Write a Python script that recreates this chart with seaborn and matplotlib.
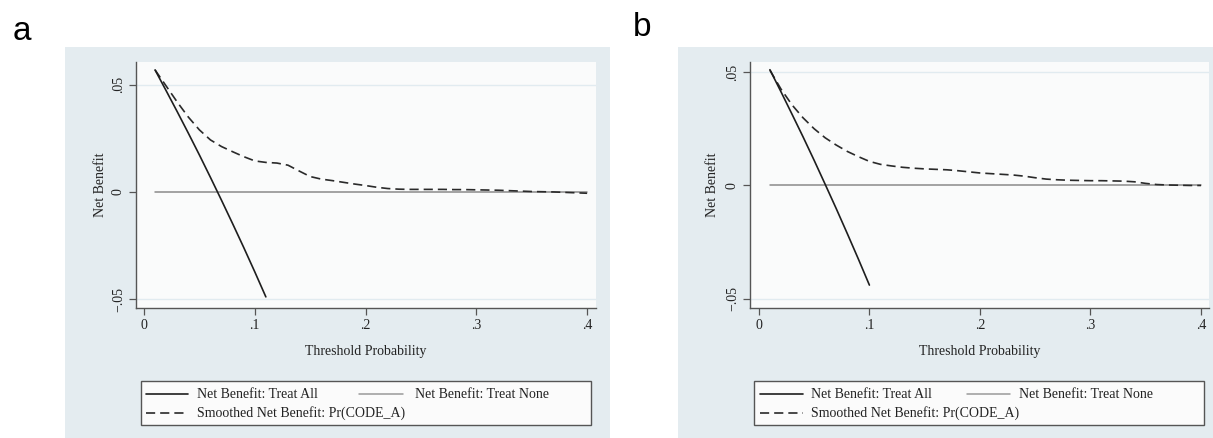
import numpy as np
import pandas as pd
import matplotlib
matplotlib.use("Agg")
import matplotlib.pyplot as plt
from matplotlib.patches import Rectangle
from matplotlib.lines import Line2D
import seaborn as sns

# ---------------- data ----------------
thr_all_a = [0.01, 0.02, 0.03, 0.04, 0.05, 0.06, 0.07, 0.08, 0.09, 0.10, 0.11]
nb_all_a = [0.0570, 0.0473, 0.0375, 0.0275, 0.0173, 0.0068, -0.0039, -0.0148, -0.0259, -0.0373, -0.0490]

thr_smooth = [0.01, 0.02, 0.03, 0.04, 0.05, 0.06, 0.07, 0.08, 0.09, 0.10,
              0.11, 0.12, 0.13, 0.14, 0.15, 0.16, 0.17, 0.18, 0.19, 0.20,
              0.21, 0.22, 0.23, 0.24, 0.25, 0.26, 0.27, 0.28, 0.29, 0.30,
              0.31, 0.32, 0.33, 0.34, 0.35, 0.36, 0.37, 0.38, 0.39, 0.40]
nb_smooth_a = [0.0570, 0.0495, 0.0420, 0.0350, 0.0290, 0.0243, 0.0212, 0.0188, 0.0165, 0.0145,
               0.0138, 0.0135, 0.0125, 0.0098, 0.0072, 0.0060, 0.0053, 0.0045, 0.0037, 0.0030,
               0.0022, 0.0016, 0.0013, 0.0012, 0.0012, 0.0012, 0.0012, 0.0011, 0.0011, 0.0010,
               0.0009, 0.0008, 0.0006, 0.0004, 0.0002, 0.0001, 0.0000, -0.0002, -0.0004, -0.0006]

thr_all_b = [0.01, 0.02, 0.03, 0.04, 0.05, 0.06, 0.07, 0.08, 0.09, 0.10]
nb_all_b = [0.0510, 0.0413, 0.0314, 0.0214, 0.0111, 0.0005, -0.0102, -0.0212, -0.0324, -0.0439]

nb_smooth_b = [0.0508, 0.0425, 0.0355, 0.0298, 0.0250, 0.0210, 0.0178, 0.0150, 0.0127, 0.0106,
               0.0093, 0.0086, 0.0080, 0.0076, 0.0073, 0.0071, 0.0069, 0.0065, 0.0060, 0.0055,
               0.0052, 0.0049, 0.0046, 0.0041, 0.0034, 0.0028, 0.0025, 0.0023, 0.0022, 0.0021,
               0.0021, 0.0020, 0.0019, 0.0016, 0.0009, 0.0004, 0.0002, 0.0001, 0.0000, 0.0000]

thr_none = [0.01, 0.40]
nb_none = [0.0, 0.0]

x_ticks = [0, 0.1, 0.2, 0.3, 0.4]
x_ticklabels = ["0", ".1", ".2", ".3", ".4"]
y_ticks = [-0.05, 0, 0.05]
y_ticklabels = ["\u2212.05", "0", ".05"]

legend_labels = ["Net Benefit: Treat All", "Net Benefit: Treat None",
                 "Smoothed Net Benefit: Pr(CODE_A)"]

# ---------------- style ----------------
sns.set_style("white")
plt.rcParams["font.family"] = ["Liberation Serif", "DejaVu Serif"]
plt.rcParams["axes.unicode_minus"] = True

W, H = 1213, 438
fig = plt.figure(figsize=(W / 100, H / 100), dpi=100)
fig.patch.set_facecolor("white")

REGION = "#E4ECF0"
PLOTBG = "#FAFBFB"
GRID = "#E1EBF0"
AXC = "#555555"
TXT = "#222222"
FS = 10
C_ALL = "#1E1E1E"
C_SM = "#2A2A2A"
C_NONE = "#8A8A8A"
DASH = (0, (5.5, 3))


def fx(px):
    return px / W


def fy(py):
    return 1 - py / H


panels = [
    dict(letter="a", region=(65, 47, 610, 438), axes=(136, 62, 596, 308),
         ylim=(-0.0542, 0.0607), xlim=(-0.0072, 0.408),
         thr_all=thr_all_a, nb_all=nb_all_a, nb_smooth=nb_smooth_a,
         letter_xy=(22, 31), legend=(141, 381, 591, 425),
         col1=(146, 188, 197), col2=(359, 403, 415), rows=(394, 413),
         ylab_x=100, xlab_y=351),
    dict(letter="b", region=(678, 47, 1213, 438), axes=(750, 62, 1209, 308),
         ylim=(-0.054, 0.0544), xlim=(-0.008, 0.4072),
         thr_all=thr_all_b, nb_all=nb_all_b, nb_smooth=nb_smooth_b,
         letter_xy=(642, 27), legend=(754, 381, 1204, 425),
         col1=(760, 803, 811), col2=(967, 1010, 1019), rows=(394, 413),
         ylab_x=713, xlab_y=351),
]

for p in panels:
    l, t, r, b = p["region"]
    fig.patches.append(Rectangle((fx(l), fy(b)), (r - l) / W, (b - t) / H,
                                 transform=fig.transFigure, facecolor=REGION,
                                 edgecolor="none", zorder=-10))
    al, at, ar, ab = p["axes"]
    ax = fig.add_axes([fx(al), fy(ab), (ar - al) / W, (ab - at) / H])
    ax.set_facecolor(PLOTBG)
    for yv in [-0.05, 0.05]:
        ax.axhline(yv, color=GRID, lw=1.0, zorder=0)

    sns.lineplot(x=thr_none, y=nb_none, ax=ax, color=C_NONE, lw=1.1,
                 estimator=None, sort=False)
    sns.lineplot(x=thr_smooth, y=p["nb_smooth"], ax=ax, color=C_SM, lw=1.2,
                 linestyle=DASH, estimator=None, sort=False)
    sns.lineplot(x=p["thr_all"], y=p["nb_all"], ax=ax, color=C_ALL, lw=1.2,
                 estimator=None, sort=False)

    ax.set_xlim(*p["xlim"])
    ax.set_ylim(*p["ylim"])
    ax.set_xticks(x_ticks)
    ax.set_xticklabels(x_ticklabels, fontsize=FS)
    ax.set_yticks(y_ticks)
    ax.set_yticklabels(y_ticklabels, fontsize=FS, rotation=90, va="center")
    ax.tick_params(axis="both", direction="out", length=5, width=0.9, color=AXC,
                   pad=3, labelcolor=TXT, bottom=True, left=True)
    for s in ["top", "right"]:
        ax.spines[s].set_visible(False)
    for s in ["left", "bottom"]:
        ax.spines[s].set_color(AXC)
        ax.spines[s].set_linewidth(1.0)
    ax.set_xlabel("")
    ax.set_ylabel("")

    fig.text(fx(p["ylab_x"]), fy((at + ab) / 2), "Net Benefit", rotation=90,
             ha="center", va="center", fontsize=FS, color=TXT)
    fig.text(fx((al + ar) / 2), fy(p["xlab_y"]), "Threshold Probability",
             ha="center", va="center", fontsize=FS, color=TXT)
    fig.text(fx(p["letter_xy"][0]), fy(p["letter_xy"][1]), p["letter"],
             ha="center", va="center", fontsize=24, family="Liberation Sans",
             color="black")

    # legend box (Stata-style grid legend)
    ll, lt, lr, lb = p["legend"]
    fig.patches.append(Rectangle((fx(ll), fy(lb)), (lr - ll) / W, (lb - lt) / H,
                                 transform=fig.transFigure, facecolor="#FBFBFB",
                                 edgecolor="#555555", lw=1.0, zorder=5))
    entries = [
        (p["col1"], p["rows"][0], C_ALL, "-", 1.2, legend_labels[0]),
        (p["col2"], p["rows"][0], "#9A9A9A", "-", 1.1, legend_labels[1]),
        (p["col1"], p["rows"][1], C_SM, DASH, 1.2, legend_labels[2]),
    ]
    for (x0, x1, xt), yrow, col, ls, lw, lab in entries:
        fig.lines.append(Line2D([fx(x0), fx(x1)], [fy(yrow), fy(yrow)],
                                transform=fig.transFigure, color=col,
                                linestyle=ls, lw=lw, zorder=6))
        fig.text(fx(xt), fy(yrow), lab, ha="left", va="center", fontsize=FS,
                 color=TXT, zorder=7)

fig.savefig("out.png", dpi=100, facecolor="white")
